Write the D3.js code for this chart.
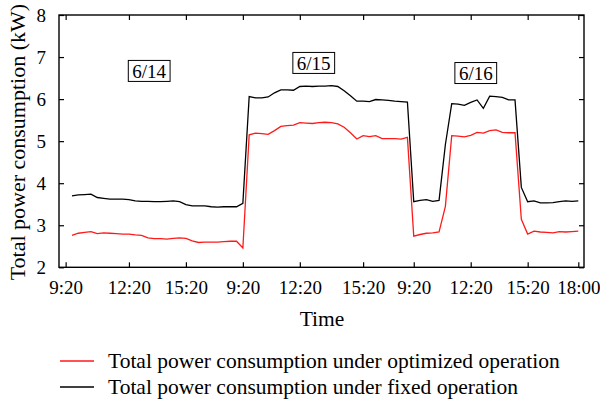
<!DOCTYPE html>
<html>
<head>
<meta charset="utf-8">
<script src="https://cdn.jsdelivr.net/npm/d3@7"></script>
<style>
  body { margin: 0; background: #fff; }
  text { font-family: "Liberation Serif", "DejaVu Serif", serif; }
</style>
</head>
<body>
<svg id="chart" width="600" height="402"></svg>
<script>
// one sample every 20 min, three days glued together
var optimized = [
  2.76, 2.81, 2.83, 2.85, 2.80, 2.82, 2.81, 2.80, 2.79, 2.79,
  2.77, 2.76, 2.70, 2.68, 2.68, 2.67, 2.69, 2.70, 2.69, 2.63,
  2.59, 2.60, 2.60, 2.60, 2.61, 2.62, 2.62, 2.46,
  5.15, 5.19, 5.18, 5.16, 5.25, 5.35, 5.37, 5.38, 5.44, 5.43,
  5.42, 5.44, 5.45, 5.44, 5.41, 5.33, 5.20, 5.05, 5.13, 5.11,
  5.13, 5.06, 5.06, 5.06, 5.05, 5.09,
  2.74, 2.78, 2.81, 2.82, 2.84, 3.45, 5.13, 5.12, 5.10, 5.14,
  5.21, 5.19, 5.25, 5.27, 5.21, 5.20, 5.20, 3.14, 2.79, 2.86,
  2.84, 2.83, 2.82, 2.85, 2.84, 2.85, 2.86
];
var fixed = [
  3.70, 3.72, 3.73, 3.74, 3.66, 3.64, 3.62, 3.62, 3.62, 3.61,
  3.58, 3.57, 3.57, 3.56, 3.56, 3.57, 3.58, 3.56, 3.49, 3.46,
  3.46, 3.46, 3.44, 3.43, 3.44, 3.44, 3.44, 3.52,
  6.06, 6.03, 6.03, 6.05, 6.15, 6.22, 6.22, 6.21, 6.30, 6.31,
  6.30, 6.31, 6.31, 6.32, 6.30, 6.20, 6.08, 5.95, 5.95, 5.94,
  5.99, 5.98, 5.97, 5.95, 5.94, 5.93,
  3.56, 3.59, 3.61, 3.57, 3.59, 4.92, 5.89, 5.88, 5.85, 5.92,
  5.98, 5.78, 6.07, 6.06, 6.04, 5.98, 5.98, 3.90, 3.56, 3.58,
  3.53, 3.53, 3.54, 3.56, 3.58, 3.57, 3.58
];

var xTickIdx = [-1, 9, 18, 27, 36, 46, 54, 63, 72, 80];
var xTickLabels = ["9:20", "12:20", "15:20", "9:20", "12:20", "15:20", "9:20", "12:20", "15:20", "18:00"];
var yTicks = [2, 3, 4, 5, 6, 7, 8];

var dayLabels = ["6/14", "6/15", "6/16"];
var dayLabelIdx = [12.2, 38.2, 63.8];
var dayLabelVal = [6.67, 6.86, 6.62];

var legendNames = ["Total power consumption under optimized operation",
                   "Total power consumption under fixed operation"];
var legendColors = ["#ff1a1a", "#000"];

function draw() {
    var svg = d3.select('#chart');
    var pLeft = 59, pRight = 584, pTop = 15, pBottom = 267.3;

    var x = d3.scaleLinear().domain([-2.05, 80.9]).range([pLeft, pRight]);
    var y = d3.scaleLinear().domain([2, 8]).range([pBottom, pTop]);

    // axes, ticks pointing inward
    var xAxis = d3.axisBottom(x).tickValues(xTickIdx)
        .tickFormat(function(d, i) { return xTickLabels[i]; })
        .tickSizeInner(-5).tickSizeOuter(0).tickPadding(13);
    var gx = svg.append('g').attr('transform', 'translate(0,' + pBottom + ')').call(xAxis);
    gx.selectAll('text').attr('font-size', 19).attr('fill', '#000');

    svg.append('g').attr('transform', 'translate(0,' + pTop + ')')
        .call(d3.axisTop(x).tickValues(xTickIdx).tickFormat('').tickSizeInner(-5).tickSizeOuter(0));

    var yAxis = d3.axisLeft(y).tickValues(yTicks).tickFormat(d3.format('d'))
        .tickSizeInner(-5).tickSizeOuter(0).tickPadding(13);
    var gy = svg.append('g').attr('transform', 'translate(' + pLeft + ',0)').call(yAxis);
    gy.selectAll('text').attr('font-size', 19).attr('fill', '#000');

    svg.append('g').attr('transform', 'translate(' + pRight + ',0)')
        .call(d3.axisRight(y).tickValues(yTicks).tickFormat('').tickSizeInner(-5).tickSizeOuter(0));

    svg.selectAll('.domain').remove();
    svg.selectAll('.tick line').attr('stroke', '#000').attr('stroke-width', 1.2);

    svg.append('rect')
        .attr('x', pLeft).attr('y', pTop)
        .attr('width', pRight - pLeft).attr('height', pBottom - pTop)
        .attr('fill', 'none').attr('stroke', '#000').attr('stroke-width', 1.4);

    // series
    var line = d3.line()
        .x(function(d, i) { return x(i); })
        .y(function(d) { return y(d); });

    svg.append('path').datum(fixed)
        .attr('d', line).attr('fill', 'none')
        .attr('stroke', legendColors[1]).attr('stroke-width', 1.3);
    svg.append('path').datum(optimized)
        .attr('d', line).attr('fill', 'none')
        .attr('stroke', legendColors[0]).attr('stroke-width', 1.3);

    // day labels in boxes
    dayLabels.forEach(function(lab, i) {
        var cx = x(dayLabelIdx[i]), cy = y(dayLabelVal[i]);
        var g = svg.append('g');
        var box = g.append('rect');
        var t = g.append('text')
            .attr('x', cx).attr('y', cy)
            .attr('dy', '0.35em')
            .attr('text-anchor', 'middle')
            .attr('font-size', 19)
            .text(lab);
        var w = t.node().getComputedTextLength();
        box.attr('x', cx - w / 2 - 4).attr('y', cy - 10.5)
            .attr('width', w + 8).attr('height', 21)
            .attr('fill', '#fff').attr('stroke', '#000').attr('stroke-width', 1);
    });

    // axis titles
    svg.append('text')
        .attr('x', 322).attr('y', 326)
        .attr('text-anchor', 'middle').attr('font-size', 21.5)
        .text('Time');
    svg.append('text')
        .attr('transform', 'translate(25,' + ((pTop + pBottom) / 2 + 1) + ') rotate(-90)')
        .attr('text-anchor', 'middle').attr('font-size', 22)
        .text('Total power consumption (kW)');

    // legend
    var lg = svg.append('g').selectAll('g')
        .data(legendNames).enter().append('g')
        .attr('transform', function(d, i) { return 'translate(60,' + (361 + i * 26) + ')'; });
    lg.append('line')
        .attr('x1', 0).attr('x2', 34).attr('y1', 0).attr('y2', 0)
        .attr('stroke', function(d, i) { return legendColors[i]; })
        .attr('stroke-width', 1.3);
    lg.append('text')
        .attr('x', 48).attr('y', 0).attr('dy', '0.33em')
        .attr('font-size', 21.5)
        .text(function(d) { return d; });
}

draw();
</script>
</body>
</html>
